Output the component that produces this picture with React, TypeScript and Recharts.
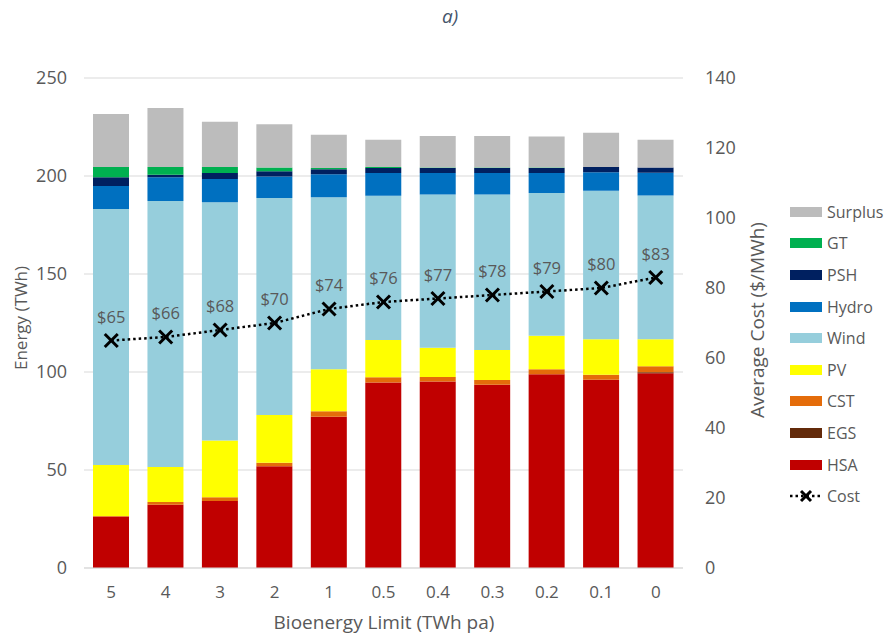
import { Bar, CartesianGrid, ComposedChart, LabelList, Line, XAxis, YAxis } from "recharts";

const categories = ["5", "4", "3", "2", "1", "0.5", "0.4", "0.3", "0.2", "0.1", "0"];
const hsa = [26.2, 32.3, 34.2, 51.9, 77.2, 94.7, 95.1, 93.5, 98.8, 96.1, 99.3];
const egs = [0, 0, 0, 0, 0, 0, 0, 0, 0, 0, 0.6];
const cst = [0.3, 1.4, 1.9, 1.8, 2.8, 2.6, 2.3, 2.4, 2.6, 2.5, 3.0];
const pv = [26.1, 17.8, 28.9, 24.3, 21.4, 19.0, 15.0, 15.3, 17.1, 18.1, 13.8];
const wind = [130.6, 135.7, 121.6, 110.8, 87.7, 73.6, 78.1, 79.3, 72.8, 75.8, 73.4];
const hydro = [11.7, 12.1, 11.9, 10.9, 11.8, 11.6, 11.0, 11.0, 10.2, 9.4, 11.6];
const psh = [4.4, 1.4, 3.0, 2.7, 2.5, 2.6, 2.6, 2.6, 2.6, 2.7, 2.6];
const gt = [5.3, 3.9, 3.1, 1.9, 0.7, 0.5, 0.3, 0.3, 0.2, 0, 0];
const surplus = [27.0, 30.1, 23.1, 22.1, 17.0, 13.9, 16.0, 16.0, 15.8, 17.5, 14.2];
const cost = [65, 66, 68, 70, 74, 76, 77, 78, 79, 80, 83];

const energyTicks = [0, 50, 100, 150, 200, 250];
const costTicks = [0, 20, 40, 60, 80, 100, 120, 140];

// stacked bottom to top
const series = [
  { key: "HSA", values: hsa, color: "#C00000" },
  { key: "EGS", values: egs, color: "#632A0A" },
  { key: "CST", values: cst, color: "#E46C0A" },
  { key: "PV", values: pv, color: "#FFFF00" },
  { key: "Wind", values: wind, color: "#96CEDC" },
  { key: "Hydro", values: hydro, color: "#0070C0" },
  { key: "PSH", values: psh, color: "#002060" },
  { key: "GT", values: gt, color: "#00B050" },
  { key: "Surplus", values: surplus, color: "#BCBCBC" },
];

const data = categories.map((c, i) => {
  const row: Record<string, string | number> = { name: c, Cost: cost[i] };
  series.forEach((s) => {
    row[s.key] = s.values[i];
  });
  return row;
});

const textColor = "#595959";
const font = "'Open Sans', sans-serif";

function CrossDot(props: any) {
  const { cx, cy } = props;
  if (cx == null || cy == null) return null;
  const r = 6.5;
  return (
    <g>
      <line x1={cx - r} y1={cy - r} x2={cx + r} y2={cy + r} stroke="#000" strokeWidth={3} />
      <line x1={cx - r} y1={cy + r} x2={cx + r} y2={cy - r} stroke="#000" strokeWidth={3} />
    </g>
  );
}

function LegendBox() {
  const items = [...series].reverse();
  return (
    <div style={{ position: "absolute", left: 790, top: 196, fontFamily: font, fontSize: 16, color: textColor }}>
      {items.map((s) => (
        <div key={s.key} style={{ display: "flex", alignItems: "center", height: 31.6 }}>
          <div style={{ width: 32, height: 10, background: s.color, marginRight: 5 }} />
          <span>{s.key}</span>
        </div>
      ))}
      <div style={{ display: "flex", alignItems: "center", height: 31.6 }}>
        <svg width={32} height={14} style={{ marginRight: 5 }}>
          <line x1={0} y1={7} x2={32} y2={7} stroke="#000" strokeWidth={2.5} strokeDasharray="2.5 3" />
          <line x1={11} y1={2} x2={21} y2={12} stroke="#000" strokeWidth={3} />
          <line x1={11} y1={12} x2={21} y2={2} stroke="#000" strokeWidth={3} />
        </svg>
        <span>Cost</span>
      </div>
    </div>
  );
}

export default function App() {
  return (
    <div style={{ position: "absolute", left: 0, top: 0, width: 889, height: 639, background: "#fff", fontFamily: font }}>
      <div style={{ position: "absolute", left: 0, width: 900, top: 3, textAlign: "center", fontStyle: "italic", fontSize: 19, color: "#44546A" }}>
        a)
      </div>
      <ComposedChart
        width={889}
        height={639}
        data={data}
        margin={{ top: 78, right: 146, bottom: 0, left: 24 }}
        barSize={36}
      >
        <CartesianGrid horizontal vertical={false} stroke="#D9D9D9" yAxisId="left" />
        <XAxis
          dataKey="name"
          axisLine={{ stroke: "#D9D9D9" }}
          tickLine={false}
          tickMargin={12}
          height={71}
          tick={{ fill: textColor, fontSize: 17, fontFamily: font }}
        />
        <YAxis
          yAxisId="left"
          domain={[0, 250]}
          ticks={energyTicks}
          axisLine={false}
          tickLine={false}
          tickMargin={11}
          width={60}
          tick={{ fill: textColor, fontSize: 18, fontFamily: font }}
        />
        <YAxis
          yAxisId="right"
          orientation="right"
          domain={[0, 140]}
          ticks={costTicks}
          axisLine={false}
          tickLine={false}
          tickMargin={16}
          width={60}
          tick={{ fill: textColor, fontSize: 18, fontFamily: font, textAnchor: "start" }}
        />
        {series.map((s) => (
          <Bar key={s.key} dataKey={s.key} stackId="e" yAxisId="left" fill={s.color} isAnimationActive={false} />
        ))}
        <Line
          dataKey="Cost"
          yAxisId="right"
          stroke="#000"
          strokeWidth={2.5}
          strokeDasharray="2.5 3"
          dot={<CrossDot />}
          activeDot={false}
          isAnimationActive={false}
        >
          <LabelList
            dataKey="Cost"
            position="top"
            offset={18}
            formatter={(v: any) => `$${v}`}
            style={{ fill: textColor, fontSize: 16.5, fontFamily: font }}
          />
        </Line>
      </ComposedChart>
      <div
        style={{
          position: "absolute",
          left: 20,
          top: 318,
          transform: "translate(-50%, -50%) rotate(-90deg)",
          whiteSpace: "nowrap",
          fontSize: 17,
          color: textColor,
        }}
      >
        Energy (TWh)
      </div>
      <div
        style={{
          position: "absolute",
          left: 757,
          top: 320,
          transform: "translate(-50%, -50%) rotate(-90deg)",
          whiteSpace: "nowrap",
          fontSize: 19,
          color: textColor,
        }}
      >
        Average Cost ($/MWh)
      </div>
      <div
        style={{
          position: "absolute",
          left: 384,
          top: 622,
          transform: "translate(-50%, -50%)",
          whiteSpace: "nowrap",
          fontSize: 19,
          color: textColor,
        }}
      >
        Bioenergy Limit (TWh pa)
      </div>
      <LegendBox />
    </div>
  );
}
